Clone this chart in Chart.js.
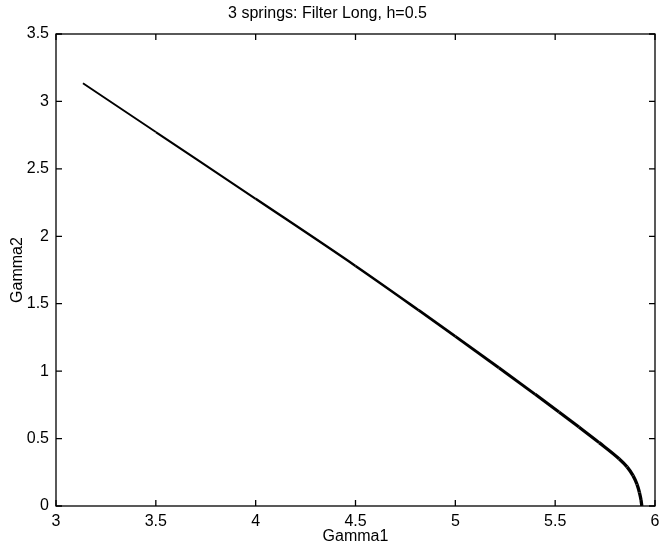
<!DOCTYPE html>
<html>
<head>
<meta charset="utf-8">
<script src="https://cdn.jsdelivr.net/npm/chart.js@4.4.1/dist/chart.umd.min.js"></script>
<style>
html,body{margin:0;padding:0;background:#fff;}
#wrap{width:659px;height:550px;}
</style>
</head>
<body>
<div id="wrap"><canvas id="c" width="659" height="550"></canvas></div>
<script>
const titleText = "3 springs: Filter Long, h=0.5";
const xLabel = "Gamma1";
const yLabel = "Gamma2";
const gamma1 = [3.135, 3.5, 4.0, 4.5, 4.816, 5.0, 5.218, 5.4, 5.519, 5.619, 5.72, 5.82, 5.86, 5.89, 5.91, 5.922, 5.93, 5.934];
const gamma2 = [3.135, 2.773, 2.278, 1.78, 1.452, 1.258, 1.025, 0.828, 0.697, 0.585, 0.47, 0.35, 0.29, 0.225, 0.16, 0.1, 0.045, 0.0];
const xTicks = [3, 3.5, 4, 4.5, 5, 5.5, 6];
const yTicks = [0, 0.5, 1, 1.5, 2, 2.5, 3, 3.5];

const FONT = "'Liberation Sans', Arial, Helvetica, sans-serif";
const points = gamma1.map((x, i) => ({x: x, y: gamma2[i]}));
const fmt = v => String(Math.round(v * 10) / 10);

const boxPlugin = {
  id: 'box',
  beforeDraw(chart) {
    const ctx = chart.ctx;
    ctx.save();
    ctx.fillStyle = '#fff';
    ctx.fillRect(0, 0, chart.width, chart.height);
    ctx.restore();
  },
  afterDraw(chart) {
    const ctx = chart.ctx;
    const a = chart.chartArea;
    const xs = chart.scales.x, ys = chart.scales.y;
    const L = 6;
    ctx.save();
    ctx.strokeStyle = '#000';
    ctx.lineWidth = 1.3;
    ctx.strokeRect(a.left, a.top, a.right - a.left, a.bottom - a.top);
    ctx.beginPath();
    xTicks.forEach(v => {
      const px = xs.getPixelForValue(v);
      ctx.moveTo(px, a.bottom); ctx.lineTo(px, a.bottom - L);
      ctx.moveTo(px, a.top); ctx.lineTo(px, a.top + L);
    });
    yTicks.forEach(v => {
      const py = ys.getPixelForValue(v);
      ctx.moveTo(a.left, py); ctx.lineTo(a.left + L, py);
      ctx.moveTo(a.right, py); ctx.lineTo(a.right - L, py);
    });
    ctx.stroke();
    ctx.restore();
  }
};

new Chart(document.getElementById('c'), {
  type: 'line',
  data: {
    datasets: [{
      data: points,
      borderColor: '#000',
      borderWidth: 2,
      pointRadius: 0,
      fill: false,
      cubicInterpolationMode: 'monotone',
      segment: {
        borderWidth: ctx => 1.9 + Math.max(0, (ctx.p0.parsed.x - 3.1)) / 2.8 * 1.4
      }
    }]
  },
  options: {
    responsive: false,
    animation: false,
    layout: {padding: {left: 0, right: 4, top: 0, bottom: 0}},
    plugins: {
      legend: {display: false},
      tooltip: {enabled: false},
      title: {
        display: true,
        text: titleText,
        color: '#000',
        font: {family: FONT, size: 16, weight: 'normal'},
        padding: {top: 4, bottom: 10.8}
      }
    },
    scales: {
      x: {
        type: 'linear',
        min: 3, max: 6,
        afterFit(s) { s.height = 44; s.paddingLeft = 0; s.paddingRight = 0; },
        afterBuildTicks(s) { s.ticks = xTicks.map(v => ({value: v})); },
        grid: {display: false, drawTicks: false},
        border: {display: false},
        ticks: {color: '#000', font: {family: FONT, size: 16}, padding: 6, maxRotation: 0, autoSkip: false, callback: fmt},
        title: {display: true, text: xLabel, color: '#000', font: {family: FONT, size: 16}, padding: {top: 0, bottom: 4}}
      },
      y: {
        type: 'linear',
        min: 0, max: 3.5,
        afterFit(s) { s.width = 56; s.paddingTop = 0; s.paddingBottom = 0; },
        afterBuildTicks(s) { s.ticks = yTicks.map(v => ({value: v})); },
        grid: {display: false, drawTicks: false},
        border: {display: false},
        ticks: {color: '#000', font: {family: FONT, size: 16}, padding: 7, autoSkip: false, callback: fmt},
        title: {display: true, text: yLabel, color: '#000', font: {family: FONT, size: 16}, padding: {top: 8, bottom: 0}}
      }
    }
  },
  plugins: [boxPlugin]
});
</script>
</body>
</html>
